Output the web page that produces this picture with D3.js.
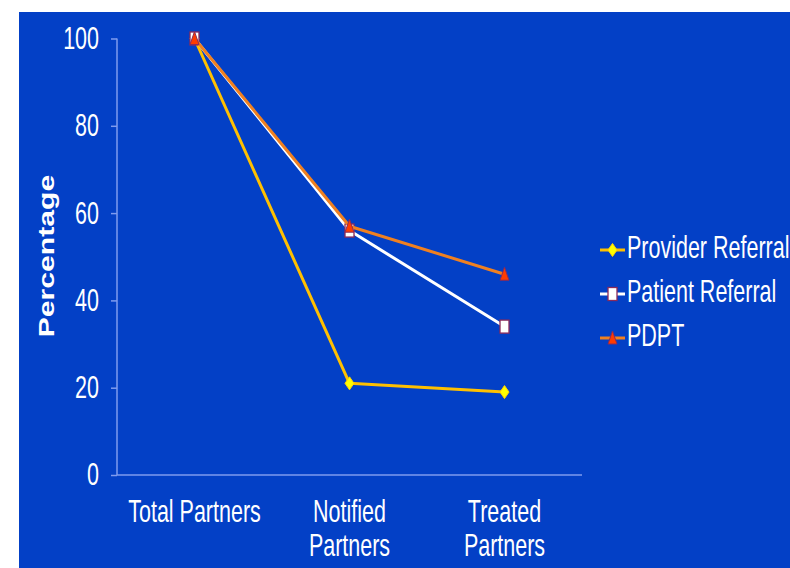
<!DOCTYPE html>
<html><head><meta charset="utf-8">
<script src="https://cdn.jsdelivr.net/npm/d3@7"></script>
<style>html,body{margin:0;padding:0;background:#fff;}svg{display:block;}</style>
</head><body>
<svg id="chart" width="790" height="568"></svg>
<script>
const categories = [["Total Partners"], ["Notified", "Partners"], ["Treated", "Partners"]];
const categoryKeys = ["Total Partners", "Notified Partners", "Treated Partners"];
const seriesNames = ["Provider Referral", "Patient Referral", "PDPT"];
const providerValues = [100, 21, 19];
const patientValues = [100, 56, 34];
const pdptValues = [100, 57, 46];
const yTicks = [0, 20, 40, 60, 80, 100];
const yTitle = "Percentage";

const svg = d3.select("#chart");
const FONT = "'Liberation Sans', Arial, sans-serif";
const STRETCH = 1.42;

svg.append("rect").attr("x", 19).attr("y", 12).attr("width", 771).attr("height", 556).attr("fill", "#0340C6");

const x = d3.scaleBand().domain(categoryKeys).range([117, 582]);
const y = d3.scaleLinear().domain([0, 100]).range([475, 38.5]);

const axisColor = "#7F9BEE";
// y axis
const yAxis = d3.axisLeft(y).tickValues(yTicks).tickSize(6).tickFormat("");
const gy = svg.append("g").attr("transform", "translate(117,0)").call(yAxis);
gy.select(".domain").attr("stroke", axisColor).attr("stroke-width", 1.5).attr("d", `M0,${y(100)}V${y(0)}`);
gy.selectAll(".tick line").attr("stroke", axisColor).attr("stroke-width", 1.5);
// x axis
const xAxis = d3.axisBottom(x).tickSize(0).tickFormat("");
const gx = svg.append("g").attr("transform", `translate(0,${y(0)})`).call(xAxis);
gx.select(".domain").attr("stroke", axisColor).attr("stroke-width", 1.5).attr("d", `M117,0H582`);

// y tick labels
yTicks.forEach(t => {
  svg.append("g").attr("transform", `translate(99,${y(t)}) scale(1,${STRETCH})`)
    .append("text").attr("text-anchor", "end").attr("dominant-baseline", "central")
    .attr("font-family", FONT).attr("font-size", 21.5).attr("fill", "#fff").text(t);
});

// x category labels
categories.forEach((lines, i) => {
  const cx = x(categoryKeys[i]) + x.bandwidth() / 2;
  lines.forEach((ln, j) => {
    svg.append("g").attr("transform", `translate(${cx},${521.5 + j * 34}) scale(1,${STRETCH})`)
      .append("text").attr("text-anchor", "middle")
      .attr("font-family", FONT).attr("font-size", 21.5).attr("fill", "#fff").text(ln);
  });
});

// y title
svg.append("g").attr("transform", `translate(54,256) rotate(-90) scale(1.37,1)`)
  .append("text").attr("text-anchor", "middle")
  .attr("font-family", FONT).attr("font-weight", "bold").attr("font-size", 22).attr("fill", "#fff").text(yTitle);

// markers
function drawMarker(g, type, cx, cy) {
  if (type === "diamond") {
    g.append("path").attr("d", `M${cx},${cy-6.5}L${cx+4.5},${cy}L${cx},${cy+6.5}L${cx-4.5},${cy}Z`)
      .attr("fill", "#FFFF00").attr("stroke", "#FFD000").attr("stroke-width", 1);
  } else if (type === "square") {
    g.append("rect").attr("x", cx - 4.5).attr("y", cy - 6.5).attr("width", 9).attr("height", 13)
      .attr("fill", "#FFFFFF").attr("stroke", "#8B2A5A").attr("stroke-width", 1.3);
  } else {
    g.append("path").attr("d", `M${cx},${cy-7}L${cx+4.5},${cy+6}L${cx-4.5},${cy+6}Z`)
      .attr("fill", "#FF3C00").attr("stroke", "#8B2A5A").attr("stroke-width", 1);
  }
}

const series = [
  { name: seriesNames[0], values: providerValues, color: "#FFC000", marker: "diamond" },
  { name: seriesNames[1], values: patientValues, color: "#FFFFFF", marker: "square" },
  { name: seriesNames[2], values: pdptValues, color: "#F08020", marker: "triangle" }
];

const line = d3.line().x((d, i) => x(categoryKeys[i]) + x.bandwidth() / 2).y(d => y(d));
series.forEach(s => {
  const g = svg.append("g");
  g.append("path").datum(s.values).attr("d", line).attr("fill", "none")
    .attr("stroke", s.color).attr("stroke-width", 3).attr("stroke-linejoin", "round");
  s.values.forEach((v, i) => drawMarker(g, s.marker, x(categoryKeys[i]) + x.bandwidth() / 2, y(v)));
});

// legend
series.forEach((s, i) => {
  const ly = 250 + i * 44;
  const g = svg.append("g");
  g.append("line").attr("x1", 600).attr("x2", 625).attr("y1", ly).attr("y2", ly)
    .attr("stroke", s.color).attr("stroke-width", 3);
  drawMarker(g, s.marker, 612.5, ly);
  g.append("g").attr("transform", `translate(627,${ly + 8}) scale(1,${STRETCH})`)
    .append("text").attr("font-family", FONT).attr("font-size", 21.5).attr("fill", "#fff").text(s.name);
});
</script>
</body></html>
